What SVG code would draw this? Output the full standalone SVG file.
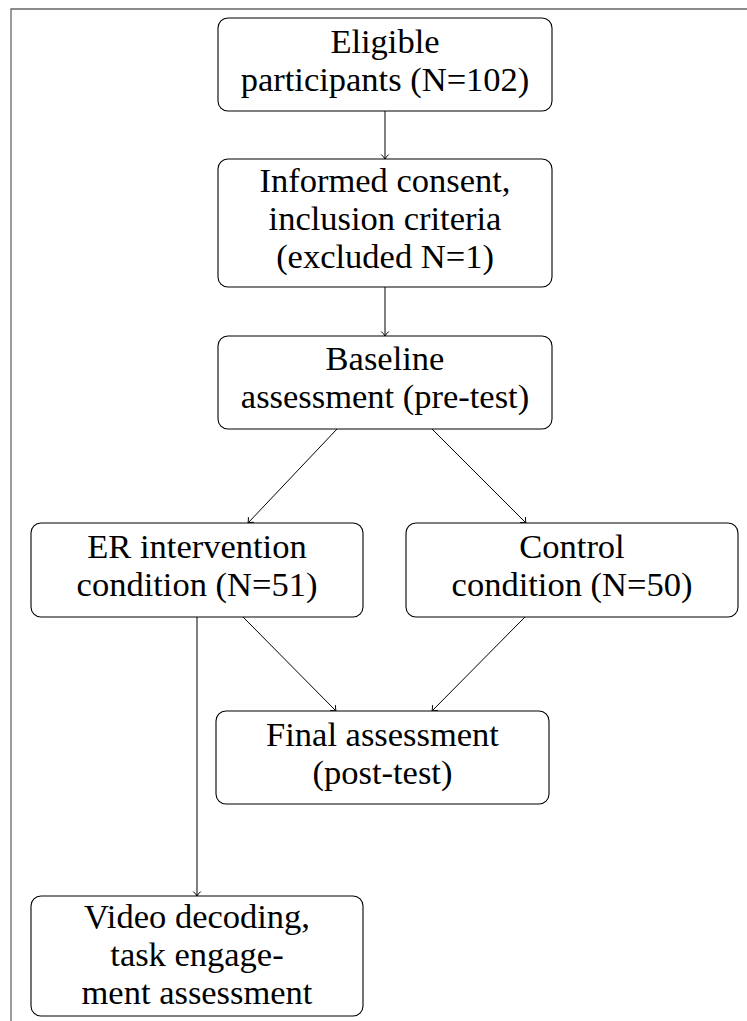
<svg xmlns="http://www.w3.org/2000/svg" width="747" height="1021" viewBox="0 0 747 1021">
<style>
.box{fill:#fff;stroke:#000;stroke-width:1.1}
.t{font-family:"Liberation Serif","Times New Roman",serif;font-size:34.5px;fill:#000;text-anchor:middle}
.c{fill:none;stroke:#000;stroke-width:1;marker-end:url(#ah)}
.frame{fill:none;stroke:#666;stroke-width:1.3}
</style>
<defs>
<marker id="ah" markerUnits="userSpaceOnUse" markerWidth="12" markerHeight="12" viewBox="-6 -6 12 12" refX="0" refY="0" orient="auto">
<path d="M -4.5 -3.8 Q -2 -1 0 0 Q -2 1 -4.5 3.8" fill="none" stroke="#000" stroke-width="1"/>
</marker>
</defs>
<rect width="747" height="1021" fill="#fff"/>
<path class="frame" d="M 11 1021 L 11 9 L 747 9"/>
<g id="connectors">
<line class="c" x1="385" y1="111" x2="385" y2="159"/>
<line class="c" x1="385" y1="287" x2="385" y2="336"/>
<line class="c" x1="337" y1="429" x2="248" y2="523"/>
<line class="c" x1="432" y1="429" x2="526" y2="523"/>
<line class="c" x1="243" y1="617" x2="336" y2="711"/>
<line class="c" x1="525" y1="617" x2="432" y2="711"/>
<line class="c" x1="197" y1="617" x2="197" y2="896"/>
</g>
<g id="eligible">
<rect class="box" x="218" y="18" width="334" height="93" rx="10"/>
<text class="t" x="385" y="53">Eligible</text>
<text class="t" x="385" y="91">participants (N=102)</text>
</g>
<g id="consent">
<rect class="box" x="218" y="159" width="334" height="128" rx="10"/>
<text class="t" x="385" y="192">Informed consent,</text>
<text class="t" x="385" y="230">inclusion criteria</text>
<text class="t" x="385" y="268">(excluded N=1)</text>
</g>
<g id="baseline">
<rect class="box" x="218" y="336" width="334" height="93" rx="10"/>
<text class="t" x="385" y="370">Baseline</text>
<text class="t" x="385" y="408">assessment (pre-test)</text>
</g>
<g id="er">
<rect class="box" x="31" y="523" width="332" height="94" rx="10"/>
<text class="t" x="197" y="558">ER intervention</text>
<text class="t" x="197" y="596">condition (N=51)</text>
</g>
<g id="control">
<rect class="box" x="406" y="523" width="332" height="94" rx="10"/>
<text class="t" x="572" y="558">Control</text>
<text class="t" x="572" y="596">condition (N=50)</text>
</g>
<g id="final">
<rect class="box" x="216" y="711" width="333" height="93" rx="10"/>
<text class="t" x="382.5" y="746">Final assessment</text>
<text class="t" x="382.5" y="784">(post-test)</text>
</g>
<g id="video">
<rect class="box" x="31" y="896" width="332" height="120" rx="10"/>
<text class="t" x="197" y="928">Video decoding,</text>
<text class="t" x="197" y="966">task engage-</text>
<text class="t" x="197" y="1004">ment assessment</text>
</g>
</svg>
